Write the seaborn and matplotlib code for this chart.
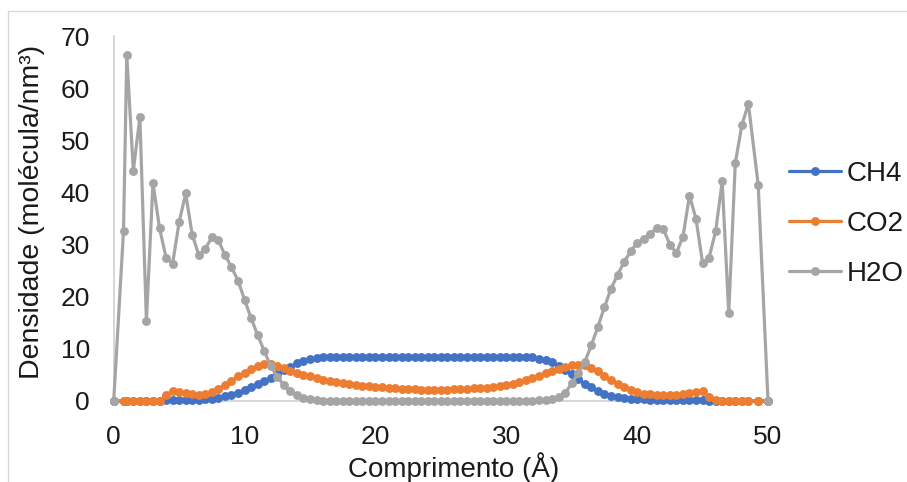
import numpy as np
import pandas as pd
import matplotlib
matplotlib.use("Agg")
import matplotlib.pyplot as plt
import seaborn as sns
from matplotlib.lines import Line2D
from matplotlib.patches import Rectangle

# ---------------- data ----------------
series_names = ["CH4", "CO2", "H2O"]
series_colors = ["#4472C4", "#ED7D31", "#A5A5A5"]

# positions of the profile bins (Å)
x_pos = [0.0, 0.75] + list(np.arange(1.0, 48.51, 0.5)) + [49.25, 50.0]

ch4 = ([0, 0, 0, 0, 0, 0, 0, 0,
        0.1, 0.2, 0.2, 0.2, 0.2, 0.25, 0.3, 0.4, 0.6, 0.9, 1.2, 1.6, 2.1, 2.6,
        3.2, 3.8, 4.5, 5.2, 5.9, 6.6, 7.2, 7.7, 8.0, 8.25, 8.35, 8.4, 8.45,
        8.5, 8.5, 8.5, 8.5, 8.5, 8.5, 8.5, 8.5, 8.5, 8.5, 8.5, 8.5, 8.5, 8.5,
        8.5, 8.5, 8.5, 8.5, 8.5, 8.5, 8.5, 8.5, 8.5, 8.5, 8.5, 8.5, 8.5, 8.5,
        8.45, 8.35, 8.15, 7.85, 7.4, 6.8, 6.0, 5.1, 4.2, 3.3, 2.6, 1.9, 1.4,
        1.0, 0.75, 0.55, 0.45, 0.35, 0.3, 0.25,
        0.2, 0.2, 0.2, 0.2, 0.2, 0.2, 0.2, 0.2, 0.05,
        0, 0, 0, 0, 0, 0,
        0, 0])

co2 = ([0, 0, 0, 0, 0, 0, 0, 0,
        1.1, 2.0, 1.7, 1.5, 1.3, 1.2, 1.3, 1.7, 2.3, 3.1, 3.9, 4.7, 5.4, 6.1,
        6.7, 7.1, 7.1, 6.8, 6.3, 5.8, 5.4, 5.0, 4.7, 4.4, 4.1, 3.85, 3.6, 3.4,
        3.2, 3.05, 2.9, 2.8, 2.7, 2.6, 2.5, 2.4, 2.35, 2.3, 2.25, 2.2, 2.2,
        2.2, 2.2, 2.2, 2.25, 2.3, 2.35, 2.4, 2.45, 2.55, 2.7, 2.85, 3.05, 3.3,
        3.6, 3.95, 4.35, 4.8, 5.3, 5.8, 6.2, 6.6, 6.9, 7.0, 6.9, 6.4, 5.7, 4.8,
        4.0, 3.3, 2.6, 2.1, 1.7, 1.4, 1.3, 1.2, 1.2, 1.2, 1.2, 1.3, 1.5, 1.7,
        1.9, 0.8, 0.1,
        0, 0, 0, 0, 0,
        0, 0])

h2o = ([0, 32.6, 66.3, 44.2, 54.4, 15.4, 41.8, 33.2, 27.5, 26.3, 34.3, 39.8,
        31.9, 28.0, 29.2, 31.4, 30.8, 28.0, 25.7, 23.1, 19.4, 15.9, 12.6, 9.6,
        6.7, 4.6, 3.1, 1.9, 1.1, 0.6, 0.3, 0.15, 0.08,
        0.05, 0.05, 0.05, 0.05, 0.05, 0.05, 0.05, 0.05, 0.05, 0.05, 0.05, 0.05,
        0.05, 0.05, 0.05, 0.05, 0.05, 0.05, 0.05, 0.05, 0.05, 0.05, 0.05, 0.05,
        0.05, 0.05, 0.05, 0.05, 0.05, 0.05, 0.05, 0.05,
        0.1, 0.2, 0.45, 0.8, 1.5, 3.4, 5.3, 7.5, 10.7, 14.2, 18.0, 21.5, 24.2,
        26.6, 28.7, 30.3, 31.1, 32.1, 33.1, 33.0, 30.0, 28.4, 31.5, 39.4, 34.9,
        26.5, 27.5, 32.6, 42.1, 16.8, 45.6, 52.9, 57.0,
        41.5, 0])

x_ticks = [0, 10, 20, 30, 40, 50]
y_ticks = [0, 10, 20, 30, 40, 50, 60, 70]
x_title = "Comprimento (Å)"
y_title = "Densidade (molécula/nm³)"

assert len(x_pos) == len(ch4) == len(co2) == len(h2o) == 100

rows = []
for name, vals in zip(series_names, [ch4, co2, h2o]):
    for xv, yv in zip(x_pos, vals):
        rows.append({"x": xv, "y": yv, "serie": name})
df = pd.DataFrame(rows)

# ---------------- figure ----------------
sns.set_theme(style="white")
plt.rcParams["font.family"] = ["Liberation Sans", "DejaVu Sans"]

W, H = 907, 482
fig = plt.figure(figsize=(W / 100, H / 100), dpi=100)
x0, x1, y0, y1 = 113.7, 768.0, 401.0, 36.0
ax = fig.add_axes([x0 / W, 1 - y0 / H, (x1 - x0) / W, (y0 - y1) / H])

sns.lineplot(data=df, x="x", y="y", hue="serie", hue_order=series_names,
             palette=series_colors, marker="o", markersize=6.4,
             markeredgewidth=0, linewidth=2.3, estimator=None, sort=False,
             legend=False, ax=ax)
for ln in ax.lines:
    ln.set_clip_on(False)

ax.set_xlim(0, 50)
ax.set_ylim(0, 70)
ax.set_xticks(x_ticks)
ax.set_yticks(y_ticks)
ax.set_xlabel("")
ax.set_ylabel("")
ax.tick_params(axis="both", length=0, labelsize=19, colors="#1a1a1a")
ax.tick_params(axis="y", pad=17)
ax.tick_params(axis="x", pad=17)
for s in ["top", "right"]:
    ax.spines[s].set_visible(False)
for s in ["left", "bottom"]:
    ax.spines[s].set_color("#d0d0d0")
    ax.spines[s].set_linewidth(1.2)
    ax.spines[s].set_zorder(0)

fig.text(454 / W, 1 - 468 / H, x_title, ha="center", va="center",
         fontsize=20, color="#1a1a1a")
fig.text(32 / W, 1 - 212 / H, y_title, ha="center", va="center",
         rotation=90, fontsize=20.5, color="#1a1a1a")

handles = [Line2D([], [], color=c, lw=2.3, marker="o", markersize=6.4,
                  markeredgewidth=0) for c in series_colors]
fig.legend(handles, series_names, loc="center left",
           bbox_to_anchor=(789 / W, 1 - 224 / H), frameon=False,
           fontsize=20, handlelength=1.87, handletextpad=0.22,
           labelspacing=0.86, borderpad=0, borderaxespad=0,
           labelcolor="#1a1a1a")

fig.add_artist(Rectangle((8 / W, -0.1), 1.2, 1.1 - 11 / H,
                         transform=fig.transFigure, fill=False,
                         edgecolor="#d9d9d9", linewidth=1.0))

fig.savefig("out.png", dpi=100)
